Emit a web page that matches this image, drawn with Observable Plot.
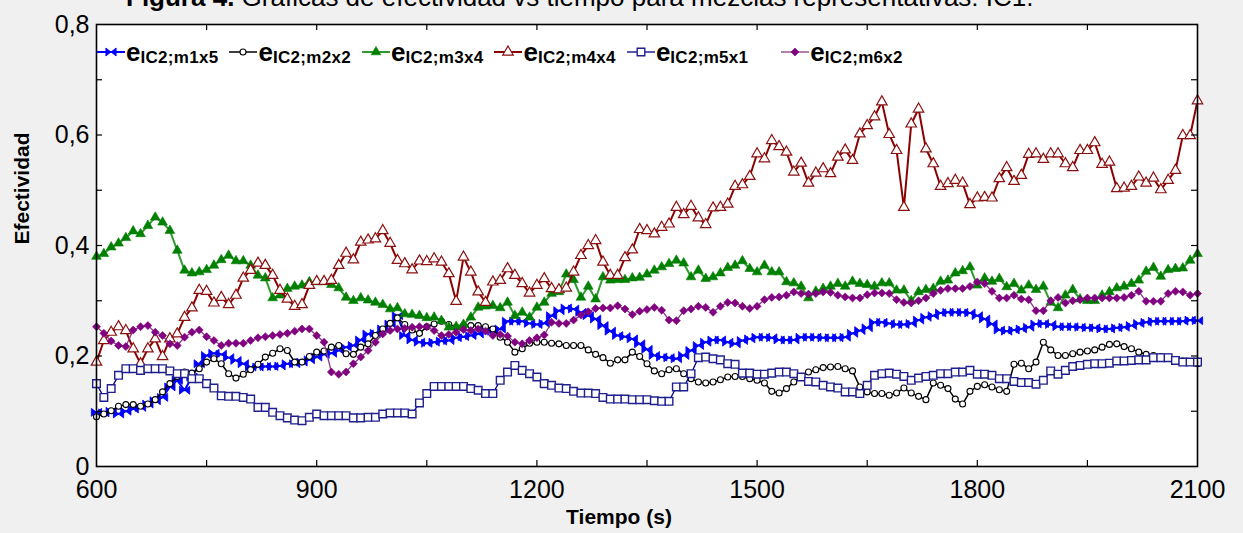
<!DOCTYPE html>
<html><head><meta charset="utf-8">
<script src="https://cdn.jsdelivr.net/npm/d3@7"></script>
<script src="https://cdn.jsdelivr.net/npm/@observablehq/plot@0.6"></script>
<style>
html,body{margin:0;padding:0;background:#f0f0f0;}
#wrap{position:relative;width:1243px;height:533px;overflow:hidden;font-family:"Liberation Sans",Arial,sans-serif;}
#title{position:absolute;left:0;top:0;}
#legend{position:absolute;left:97px;top:39px;display:flex;align-items:center;white-space:nowrap;}
.item{display:flex;align-items:center;margin-right:11px;}
.item.last{margin-left:22px;}
.item svg{display:block;}
.e{font-size:26px;font-weight:bold;line-height:26px;margin-left:1px;}
.sub{font-size:17px;font-weight:bold;letter-spacing:0.3px;position:relative;top:6px;}
</style></head>
<body><div id="wrap"></div>
<script>
const titleBold = "Figura 4.";
const titleRest = " Gráficas de efectividad vs tiempo para mezclas representativas: IC1.";
const xLabel = "Tiempo (s)";
const yLabel = "Efectividad";
const seriesKeys = ["m1x5","m2x2","m3x4","m4x4","m5x1","m6x2"];
const legendMain = "e";
const legendSubs = ["IC2;m1x5","IC2;m2x2","IC2;m3x4","IC2;m4x4","IC2;m5x1","IC2;m6x2"];
const xTickLabels = [600,900,1200,1500,1800,2100];
const xTickMarks = [750,900,1050,1200,1350,1500,1650,1800,1950];
const yTickLabels = [0,0.2,0.4,0.6,0.8];
const yTickMarks = [0.1,0.2,0.3,0.4,0.5,0.6,0.7];

const tiempo = [600,610,620,630,640,650,660,670,680,690,
700,710,720,730,740,750,760,770,780,790,
800,810,820,830,840,850,860,870,880,890,
900,910,920,930,940,950,960,970,980,990,
1000,1010,1020,1030,1040,1050,1060,1070,1080,1090,
1100,1110,1120,1130,1140,1150,1160,1170,1180,1190,
1200,1210,1220,1230,1240,1250,1260,1270,1280,1290,
1300,1310,1320,1330,1340,1350,1360,1370,1380,1390,
1400,1410,1420,1430,1440,1450,1460,1470,1480,1490,
1500,1510,1520,1530,1540,1550,1560,1570,1580,1590,
1600,1610,1620,1630,1640,1650,1660,1670,1680,1690,
1700,1710,1720,1730,1740,1750,1760,1770,1780,1790,
1800,1810,1820,1830,1840,1850,1860,1870,1880,1890,
1900,1910,1920,1930,1940,1950,1960,1970,1980,1990,
2000,2010,2020,2030,2040,2050,2060,2070,2080,2090,
2100];

const m1x5 = [0.098,0.097,0.100,0.095,0.100,0.104,0.107,0.113,0.119,0.125,
0.144,0.156,0.138,0.162,0.186,0.201,0.205,0.203,0.197,0.192,
0.186,0.180,0.180,0.181,0.181,0.182,0.186,0.186,0.189,0.193,
0.198,0.203,0.205,0.210,0.216,0.219,0.229,0.240,0.241,0.249,
0.258,0.273,0.237,0.229,0.225,0.223,0.225,0.227,0.228,0.233,
0.235,0.237,0.240,0.246,0.245,0.249,0.263,0.263,0.263,0.259,
0.257,0.259,0.273,0.282,0.287,0.285,0.279,0.273,0.267,0.255,
0.245,0.237,0.235,0.231,0.222,0.212,0.201,0.198,0.197,0.195,
0.201,0.210,0.219,0.225,0.229,0.229,0.225,0.222,0.228,0.231,
0.234,0.234,0.233,0.229,0.229,0.229,0.234,0.234,0.234,0.233,
0.233,0.233,0.234,0.241,0.246,0.251,0.261,0.261,0.259,0.257,
0.257,0.259,0.265,0.270,0.273,0.278,0.279,0.279,0.279,0.278,
0.273,0.267,0.258,0.247,0.245,0.247,0.249,0.252,0.258,0.259,
0.257,0.253,0.253,0.253,0.252,0.251,0.251,0.249,0.249,0.251,
0.252,0.255,0.259,0.261,0.263,0.263,0.263,0.263,0.263,0.265,
0.264];

const m2x2 = [0.090,0.095,0.101,0.109,0.112,0.112,0.109,0.113,0.121,0.135,
0.150,0.163,0.171,0.169,0.177,0.189,0.195,0.186,0.168,0.160,
0.167,0.175,0.185,0.198,0.205,0.213,0.210,0.189,0.189,0.199,
0.207,0.209,0.216,0.219,0.204,0.203,0.216,0.222,0.237,0.249,
0.259,0.269,0.257,0.247,0.241,0.253,0.258,0.263,0.257,0.252,
0.255,0.255,0.255,0.253,0.249,0.234,0.225,0.207,0.213,0.223,
0.225,0.225,0.223,0.222,0.219,0.219,0.219,0.211,0.203,0.197,
0.187,0.193,0.193,0.207,0.199,0.186,0.173,0.168,0.175,0.177,
0.168,0.159,0.153,0.151,0.153,0.157,0.162,0.163,0.163,0.159,
0.156,0.151,0.136,0.133,0.141,0.153,0.163,0.171,0.175,0.179,
0.180,0.181,0.177,0.173,0.144,0.135,0.132,0.132,0.129,0.133,
0.142,0.133,0.127,0.121,0.151,0.147,0.141,0.122,0.113,0.136,
0.145,0.148,0.144,0.139,0.136,0.185,0.187,0.177,0.189,0.225,
0.211,0.201,0.201,0.204,0.207,0.209,0.211,0.216,0.221,0.222,
0.217,0.213,0.207,0.203,0.201,0.199,0.198,0.193,0.191,0.189,
0.186];

const m3x4 = [0.380,0.385,0.397,0.404,0.414,0.426,0.421,0.436,0.451,0.442,
0.427,0.391,0.355,0.350,0.352,0.356,0.364,0.374,0.382,0.372,
0.372,0.364,0.346,0.341,0.305,0.310,0.322,0.326,0.328,0.334,
0.334,0.334,0.329,0.323,0.306,0.300,0.305,0.301,0.297,0.293,
0.285,0.287,0.276,0.275,0.273,0.269,0.270,0.264,0.252,0.253,
0.257,0.270,0.288,0.290,0.291,0.287,0.297,0.273,0.279,0.270,
0.288,0.297,0.313,0.316,0.348,0.338,0.306,0.326,0.303,0.343,
0.337,0.338,0.338,0.341,0.342,0.348,0.355,0.361,0.367,0.373,
0.368,0.343,0.355,0.340,0.343,0.350,0.360,0.364,0.372,0.358,
0.352,0.364,0.352,0.352,0.334,0.332,0.326,0.305,0.317,0.322,
0.326,0.331,0.326,0.335,0.331,0.329,0.326,0.332,0.332,0.319,
0.319,0.300,0.316,0.320,0.322,0.335,0.337,0.350,0.354,0.361,
0.328,0.341,0.335,0.340,0.325,0.331,0.319,0.328,0.320,0.326,
0.297,0.287,0.310,0.320,0.303,0.300,0.300,0.310,0.316,0.323,
0.326,0.331,0.337,0.353,0.360,0.344,0.356,0.358,0.359,0.373,
0.385];

const m4x4 = [0.189,0.228,0.243,0.253,0.246,0.213,0.186,0.213,0.231,0.199,
0.231,0.240,0.270,0.287,0.319,0.317,0.296,0.306,0.293,0.310,
0.341,0.355,0.368,0.364,0.346,0.319,0.303,0.290,0.293,0.328,
0.335,0.335,0.337,0.364,0.386,0.374,0.406,0.410,0.412,0.427,
0.404,0.373,0.367,0.356,0.372,0.371,0.376,0.370,0.349,0.299,
0.379,0.352,0.316,0.297,0.334,0.337,0.358,0.346,0.331,0.314,
0.328,0.340,0.322,0.320,0.323,0.352,0.382,0.400,0.409,0.370,
0.346,0.346,0.378,0.392,0.429,0.427,0.421,0.433,0.439,0.469,
0.456,0.471,0.450,0.438,0.468,0.469,0.475,0.507,0.510,0.525,
0.566,0.557,0.590,0.579,0.569,0.533,0.549,0.513,0.531,0.539,
0.530,0.560,0.573,0.554,0.602,0.617,0.633,0.660,0.601,0.572,
0.469,0.620,0.647,0.575,0.548,0.507,0.512,0.518,0.513,0.474,
0.486,0.487,0.486,0.521,0.541,0.516,0.527,0.565,0.566,0.556,
0.566,0.566,0.548,0.541,0.572,0.572,0.586,0.547,0.551,0.503,
0.504,0.507,0.524,0.513,0.522,0.501,0.518,0.536,0.599,0.599,
0.662];

const m5x1 = [0.150,0.125,0.141,0.165,0.177,0.177,0.174,0.177,0.177,0.177,
0.173,0.168,0.168,0.159,0.159,0.150,0.142,0.128,0.127,0.127,
0.125,0.122,0.107,0.107,0.098,0.092,0.088,0.084,0.083,0.089,
0.095,0.092,0.092,0.092,0.092,0.088,0.088,0.089,0.089,0.095,
0.097,0.097,0.097,0.095,0.115,0.132,0.145,0.145,0.145,0.145,
0.145,0.141,0.138,0.132,0.132,0.156,0.171,0.183,0.174,0.168,
0.162,0.150,0.147,0.142,0.141,0.136,0.133,0.133,0.132,0.125,
0.122,0.122,0.122,0.121,0.121,0.121,0.119,0.118,0.118,0.144,
0.144,0.168,0.197,0.198,0.195,0.193,0.186,0.185,0.169,0.169,
0.167,0.167,0.169,0.171,0.171,0.168,0.162,0.154,0.153,0.147,
0.144,0.142,0.135,0.135,0.132,0.147,0.165,0.168,0.169,0.167,
0.163,0.156,0.160,0.163,0.165,0.168,0.168,0.171,0.171,0.174,
0.167,0.167,0.165,0.159,0.159,0.154,0.152,0.152,0.149,0.156,
0.173,0.167,0.174,0.181,0.183,0.185,0.186,0.186,0.187,0.191,
0.191,0.192,0.193,0.193,0.197,0.197,0.197,0.192,0.189,0.189,
0.189];

const m6x2 = [0.253,0.241,0.227,0.219,0.217,0.247,0.253,0.255,0.243,0.237,
0.222,0.219,0.234,0.243,0.247,0.235,0.228,0.219,0.223,0.223,
0.223,0.228,0.233,0.235,0.237,0.239,0.241,0.245,0.249,0.249,
0.237,0.225,0.171,0.167,0.171,0.186,0.198,0.210,0.225,0.240,
0.246,0.249,0.250,0.252,0.253,0.253,0.246,0.237,0.239,0.243,
0.248,0.246,0.249,0.245,0.237,0.239,0.236,0.225,0.222,0.228,
0.233,0.238,0.261,0.259,0.259,0.265,0.274,0.280,0.286,0.287,
0.287,0.291,0.285,0.275,0.281,0.284,0.288,0.283,0.265,0.264,
0.282,0.285,0.290,0.288,0.279,0.290,0.297,0.296,0.290,0.286,
0.290,0.302,0.306,0.307,0.310,0.316,0.313,0.312,0.313,0.316,
0.315,0.310,0.307,0.305,0.305,0.311,0.314,0.314,0.313,0.302,
0.297,0.296,0.300,0.305,0.313,0.319,0.322,0.322,0.322,0.326,
0.334,0.331,0.317,0.305,0.305,0.310,0.303,0.302,0.282,0.282,
0.300,0.306,0.296,0.300,0.302,0.305,0.305,0.305,0.305,0.305,
0.306,0.310,0.317,0.299,0.299,0.299,0.313,0.317,0.316,0.310,
0.313];

// custom bow-tie marker for m1x5
const bowtie = {
  draw(ctx, size) {
    const r = Math.sqrt(size / Math.PI);
    const w = r * 1.35, h = r * 1.05;
    ctx.moveTo(-w, -h); ctx.lineTo(w, h); ctx.lineTo(w, -h); ctx.lineTo(-w, h); ctx.closePath();
  }
};

const values = {m1x5, m2x2, m3x4, m4x4, m5x1, m6x2};
const styles = {
  m1x5: {line:"#0000ff", lw:2, symbol:bowtie, d3sym:bowtie, r:3.8, fill:"#0000ff", stroke:"#0000ff", sw:0.8},
  m2x2: {line:"#000000", lw:1.5, symbol:"circle", d3sym:d3.symbolCircle, r:3, fill:"#ffffff", stroke:"#000000", sw:1.1},
  m3x4: {line:"#2f9a2f", lw:2, symbol:"triangle", d3sym:d3.symbolTriangle, r:3.6, fill:"#008000", stroke:"#008000", sw:0.6},
  m4x4: {line:"#8b0000", lw:2, symbol:"triangle", d3sym:d3.symbolTriangle, r:3.9, fill:"#ffffff", stroke:"#8b1010", sw:1.2},
  m5x1: {line:"#000080", lw:1.3, symbol:"square", d3sym:d3.symbolSquare, r:4.3, fill:"#ffffff", stroke:"#1f1f8f", sw:1.4},
  m6x2: {line:"#8a3a8a", lw:1.3, symbol:"diamond2", d3sym:d3.symbolDiamond2, r:3.6, fill:"#800080", stroke:"#800080", sw:0.6}
};

const W = 1243, H = 533, mL = 96, mR = 46, mT = 24, mB = 67;
const innerW = W - mL - mR, innerH = H - mT - mB;
const fmtY = d => d === 0 ? "0" : d3.format(".1f")(d).replace(".", ",");

const marks = [Plot.frame({fill:"white"})];
for (const k of seriesKeys) {
  const s = styles[k];
  const data = tiempo.map((t, i) => ({t, v: values[k][i]}));
  marks.push(Plot.line(data, {x:"t", y:"v", stroke:s.line, strokeWidth:s.lw}));
  marks.push(Plot.dot(data, {x:"t", y:"v", symbol:s.symbol, r:s.r, fill:s.fill, stroke:s.stroke, strokeWidth:s.sw}));
}
marks.push(
  Plot.tickX(xTickMarks, {x:d=>d, stroke:"black", strokeWidth:1.2, insetTop: innerH - 6}),
  Plot.tickX(xTickMarks, {x:d=>d, stroke:"black", strokeWidth:1.2, insetBottom: innerH - 6}),
  Plot.tickY(yTickMarks, {y:d=>d, stroke:"black", strokeWidth:1.2, insetRight: innerW - 6}),
  Plot.tickY(yTickMarks, {y:d=>d, stroke:"black", strokeWidth:1.2, insetLeft: innerW - 6}),
  Plot.frame({stroke:"black", strokeWidth:1.6}),
  Plot.axisX({ticks:xTickLabels, tickSize:0, tickPadding:14, fontSize:25, label:null, tickFormat:d=>String(d)}),
  Plot.axisY({ticks:yTickLabels, tickSize:0, tickPadding:7, fontSize:25, label:null, tickFormat:fmtY}),
  Plot.text([yLabel], {text:d=>d, frameAnchor:"left", textAnchor:"middle", dx:-74, dy:-57, rotate:-90, fontWeight:"bold", fontSize:21, fill:"black"}),
  Plot.text([xLabel], {text:d=>d, frameAnchor:"bottom", textAnchor:"middle", dx:-28, dy:57, fontWeight:"bold", fontSize:21, fill:"black"})
);

const chart = Plot.plot({
  width: W, height: H,
  marginLeft: mL, marginRight: mR, marginTop: mT, marginBottom: mB,
  x: {domain:[600, 2100], label:null},
  y: {domain:[0, 0.8], label:null},
  style: {background:"transparent", fontFamily:"'Liberation Sans', Arial, sans-serif", color:"black", overflow:"visible"},
  marks
});

const wrap = document.getElementById("wrap");
wrap.appendChild(chart);

// title (cut at the top, as in the source image)
const tsvg = d3.create("svg").attr("id","title").attr("width", W).attr("height", 20);
const tt = tsvg.append("text").attr("x", 126).attr("y", 6).attr("font-size", 26)
  .attr("font-family", "'Liberation Sans', Arial, sans-serif").attr("fill", "black");
tt.append("tspan").attr("font-weight", "bold").text(titleBold);
tt.append("tspan").text(titleRest);
wrap.appendChild(tsvg.node());

// legend
const legend = d3.create("div").attr("id","legend");
seriesKeys.forEach((k, i) => {
  const s = styles[k];
  const item = legend.append("div").attr("class", i === seriesKeys.length - 1 ? "item last" : "item");
  const sw = item.append("svg").attr("width", 28).attr("height", 14);
  sw.append("line").attr("x1",0).attr("x2",28).attr("y1",7).attr("y2",7)
    .attr("stroke", s.line).attr("stroke-width", s.lw);
  sw.append("path").attr("transform","translate(14,7)")
    .attr("d", d3.symbol(s.d3sym, Math.PI * s.r * s.r)())
    .attr("fill", s.fill).attr("stroke", s.stroke).attr("stroke-width", s.sw);
  item.append("span").attr("class","e").text(legendMain);
  item.append("span").attr("class","sub").text(legendSubs[i]);
});
wrap.appendChild(legend.node());
</script>
</body></html>
